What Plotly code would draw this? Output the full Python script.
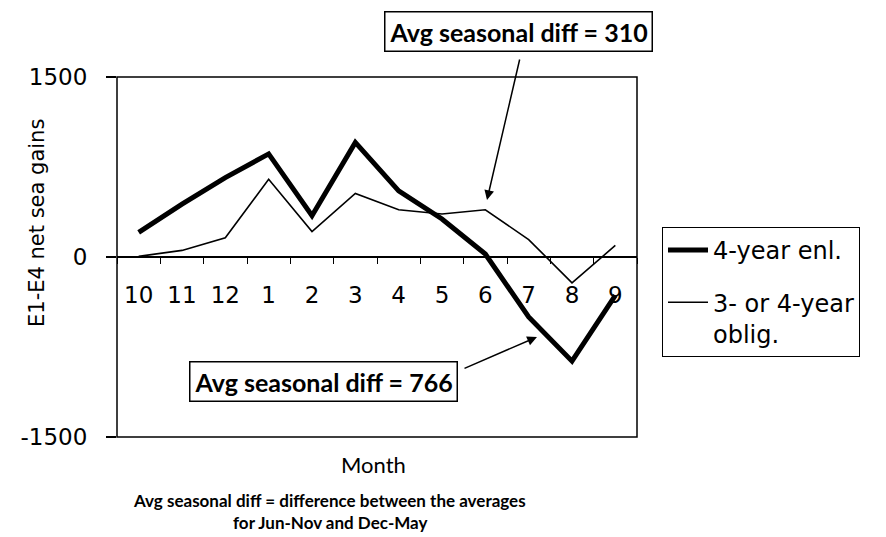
import plotly.graph_objects as go

# data
months = ["10", "11", "12", "1", "2", "3", "4", "5", "6", "7", "8", "9"]
enl_4yr = [206, 440, 661, 859, 344, 955, 551, 317, 25, -500, -868, -320]
oblig_3or4yr = [5, 55, 160, 647, 212, 529, 394, 358, 394, 145, -215, 96]
y_ticks = [-1500, 0, 1500]
y_tick_labels = ["-1500", "0", "1500"]

# plot box in pixels (for placing the text boxes)
L, R, T, B = 117, 637, 77, 437


def px(x):
    return (x - L) / (R - L)


def py(y):
    return (B - y) / (B - T)


sans = "DejaVu Sans"
serif = "Lato"

fig = go.Figure()
fig.add_trace(
    go.Scatter(
        x=months,
        y=enl_4yr,
        mode="lines",
        line=dict(color="black", width=5),
        name="4-year enl.",
        legendgroup="a",
    )
)
fig.add_trace(
    go.Scatter(
        x=months,
        y=oblig_3or4yr,
        mode="lines",
        line=dict(color="black", width=1.6),
        name="3- or 4-year<br>oblig.",
        legendgroup="b",
    )
)

fig.update_layout(
    width=886,
    height=537,
    margin=dict(l=L, r=886 - R, t=T, b=537 - B, autoexpand=False),
    plot_bgcolor="white",
    paper_bgcolor="white",
    font=dict(family=sans, color="black", size=20),
    legend=dict(
        x=px(662),
        y=py(227),
        xanchor="left",
        yanchor="top",
        valign="top",
        bordercolor="black",
        borderwidth=1,
        font=dict(family=sans, size=24),
        tracegroupgap=18,
        itemwidth=40,
    ),
)

# x axis sits on the zero line
fig.update_xaxes(
    type="category",
    categoryorder="array",
    categoryarray=months,
    range=[-0.5, 11.5],
    anchor="free",
    position=0.5,
    showline=True,
    linecolor="black",
    linewidth=1.5,
    ticks="outside",
    ticklen=6,
    tickcolor="black",
    tickson="boundaries",
    ticklabelstandoff=18,
    tickfont=dict(family=sans, size=23),
    showgrid=False,
    layer="below traces",
)
fig.update_yaxes(
    range=[-1500, 1500],
    tickvals=y_ticks,
    ticktext=y_tick_labels,
    showline=False,
    ticks="outside",
    ticklen=10,
    tickwidth=1.5,
    tickcolor="black",
    ticklabelstandoff=14,
    tickfont=dict(family=sans, size=23),
    showgrid=False,
    zeroline=False,
)

# plot frame
fig.add_shape(
    type="rect", xref="paper", yref="paper", x0=0, y0=0, x1=1, y1=1,
    line=dict(color="black", width=1.5),
)

box = dict(
    xref="paper", yref="paper", xanchor="center", yanchor="middle", showarrow=False,
    bordercolor="black", borderwidth=1.5, borderpad=4, bgcolor="white",
    font=dict(family=serif, size=25, color="black"),
)
fig.add_annotation(text="<b>Avg seasonal diff = 310</b>", x=px(518), y=py(31), **box)
fig.add_annotation(text="<b>Avg seasonal diff = 766</b>", x=px(323), y=py(381), **box)

arrow = dict(
    xref="paper", yref="paper", axref="pixel", ayref="pixel", text="",
    showarrow=True, arrowhead=2, arrowsize=1.3, arrowwidth=1.5, arrowcolor="black",
)
fig.add_annotation(x=px(487), y=py(200), ax=33, ay=-142, **arrow)
fig.add_annotation(x=px(537), y=py(337), ax=-74, ay=32, **arrow)

# axis titles and caption
plain = dict(xref="paper", yref="paper", xanchor="center", yanchor="middle", showarrow=False)
fig.add_annotation(
    text="E1-E4 net sea gains", textangle=-90, x=px(37), y=py(223),
    font=dict(family=sans, size=21), **plain
)
fig.add_annotation(
    text="Month", x=px(373), y=py(464), font=dict(family=serif, size=22), **plain
)
fig.add_annotation(
    text="<b>Avg seasonal diff = difference between the averages</b>",
    x=px(329), y=py(500), font=dict(family=serif, size=17), **plain
)
fig.add_annotation(
    text="<b>for Jun-Nov and Dec-May</b>",
    x=px(330), y=py(522), font=dict(family=serif, size=17), **plain
)

# drop the page's default body margin so the figure starts at the corner
fig.write_html(
    "out.html",
    config={"displayModeBar": False},
    post_script="document.body.style.margin = '0';",
)
